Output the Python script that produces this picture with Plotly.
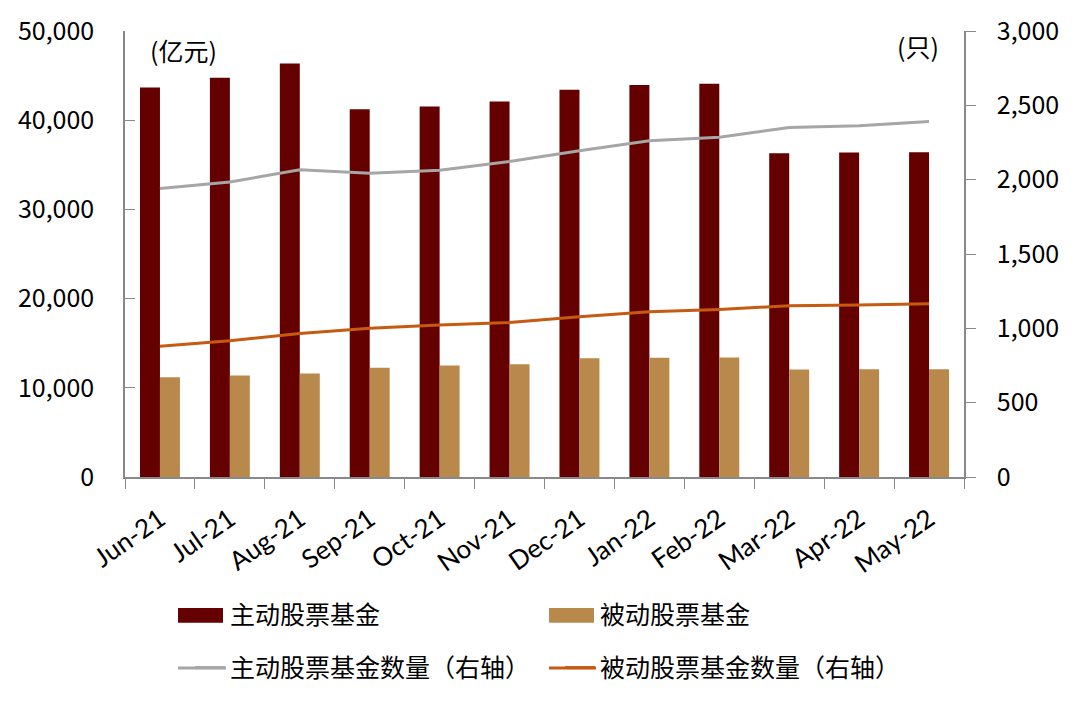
import plotly.graph_objects as go

months = ["Jun-21", "Jul-21", "Aug-21", "Sep-21", "Oct-21", "Nov-21",
          "Dec-21", "Jan-22", "Feb-22", "Mar-22", "Apr-22", "May-22"]
active_aum = [43670, 44760, 46360, 41240, 41540, 42100,
              43410, 43940, 44080, 36300, 36370, 36410]
passive_aum = [11190, 11380, 11600, 12240, 12500, 12650,
               13320, 13360, 13400, 12060, 12070, 12090]
active_count = [1940, 1985, 2066, 2043, 2063, 2122,
                2194, 2261, 2286, 2351, 2362, 2391]
passive_count = [880, 916, 966, 1000, 1022, 1040,
                 1078, 1111, 1127, 1152, 1157, 1165]

left_ticks = [0, 10000, 20000, 30000, 40000, 50000]
right_ticks = [0, 500, 1000, 1500, 2000, 2500, 3000]

CJK = "Noto Sans CJK SC"
AXIS = "#898989"
C_ACTIVE = "#640000"
C_PASSIVE = "#B8894B"
C_GRAY = "#A6A6A6"
C_ORANGE = "#C55A11"

fig = go.Figure()
fig.add_trace(go.Bar(x=months, y=active_aum, name="主动股票基金",
                     marker=dict(color=C_ACTIVE, line=dict(width=0)),
                     legend="legend"))
fig.add_trace(go.Bar(x=months, y=passive_aum, name="被动股票基金",
                     marker=dict(color=C_PASSIVE, line=dict(width=0)),
                     legend="legend"))
fig.add_trace(go.Scatter(x=months, y=active_count, name="主动股票基金数量（右轴）",
                         mode="lines", line=dict(color=C_GRAY, width=3),
                         yaxis="y2", legend="legend2"))
fig.add_trace(go.Scatter(x=months, y=passive_count, name="被动股票基金数量（右轴）",
                         mode="lines", line=dict(color=C_ORANGE, width=3),
                         yaxis="y2", legend="legend2"))

# larger legend keys (decoration drawn in paper coordinates)
key_shapes = [
    dict(type="rect", xref="paper", yref="paper", x0=0.0632, x1=0.1168,
         y0=-0.327, y1=-0.2937, fillcolor=C_ACTIVE, line=dict(width=0)),
    dict(type="rect", xref="paper", yref="paper", x0=0.5054, x1=0.559,
         y0=-0.327, y1=-0.2937, fillcolor=C_PASSIVE, line=dict(width=0)),
    dict(type="line", xref="paper", yref="paper", x0=0.0632, x1=0.1204,
         y0=-0.428, y1=-0.428, line=dict(color=C_GRAY, width=3)),
    dict(type="line", xref="paper", yref="paper", x0=0.5054, x1=0.5614,
         y0=-0.428, y1=-0.428, line=dict(color=C_ORANGE, width=3)),
]

fig.update_layout(
    width=1080, height=705,
    margin=dict(l=125, r=116, t=31, b=228),
    paper_bgcolor="white", plot_bgcolor="white",
    font=dict(family=CJK, size=25, color="black"),
    barmode="group", bargap=0.4286, bargroupgap=0,
    xaxis=dict(type="category", range=[-0.5, 11.5], tickson="boundaries",
               ticks="outside", ticklen=10, tickcolor=AXIS,
               showline=True, linecolor=AXIS, linewidth=1.5,
               showgrid=False, tickangle=-35, ticklabelstandoff=15,
               tickfont=dict(family="Lato", size=26)),
    yaxis=dict(range=[0, 50000], tickvals=left_ticks, tickformat=",",
               ticks="inside", ticklen=10, tickcolor=AXIS,
               showline=True, linecolor=AXIS, linewidth=1.5,
               showgrid=False, zeroline=False, ticklabelstandoff=24,
               tickfont=dict(family=CJK, size=25)),
    yaxis2=dict(range=[0, 3000], tickvals=right_ticks, tickformat=",",
                overlaying="y", side="right",
                ticks="outside", ticklen=10, tickcolor=AXIS,
                showline=True, linecolor=AXIS, linewidth=1.5,
                showgrid=False, zeroline=False, ticklabelstandoff=16,
                tickfont=dict(family=CJK, size=25)),
    legend=dict(orientation="h", x=0.0775, xanchor="left",
                y=-0.309, yanchor="middle", entrywidth=325,
                font=dict(family=CJK, size=25), bgcolor="rgba(0,0,0,0)",
                traceorder="normal"),
    legend2=dict(orientation="h", x=0.0775, xanchor="left",
                 y=-0.428, yanchor="middle", entrywidth=325,
                 font=dict(family=CJK, size=25), bgcolor="rgba(0,0,0,0)",
                 traceorder="normal"),
    shapes=key_shapes,
    annotations=[
        dict(text="(亿元)", xref="paper", yref="paper", x=0.0274, y=0.957,
             xanchor="left", yanchor="middle", showarrow=False,
             font=dict(family=CJK, size=25)),
        dict(text="(只)", xref="paper", yref="paper", x=0.918, y=0.966,
             xanchor="left", yanchor="middle", showarrow=False,
             font=dict(family=CJK, size=25)),
    ],
)

fig.write_html("out.html")
